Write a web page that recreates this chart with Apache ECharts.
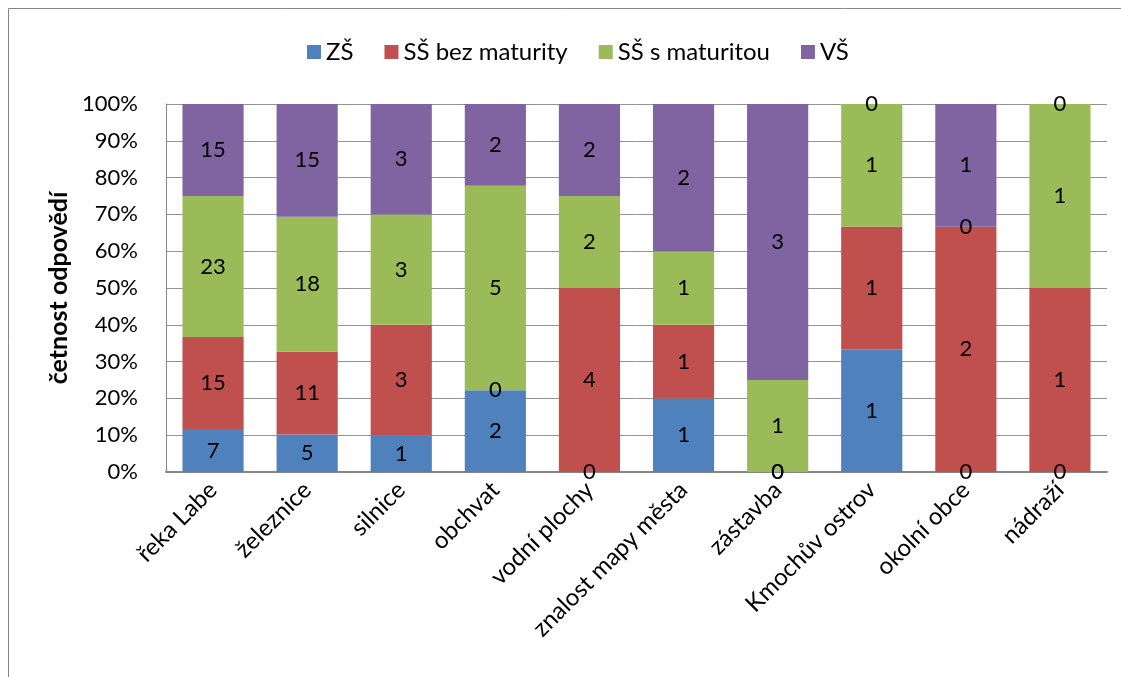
<!DOCTYPE html>
<html lang="cs">
  <head>
    <meta charset="utf-8" />
    <title>četnost odpovědí</title>
    <style>
      * {
        margin: 0;
        padding: 0;
      }
      #chart-container {
        position: relative;
        height: 677px;
        width: 1121px;
        overflow: hidden;
        background: #fff;
      }
    </style>
  </head>
  <body>
    <div id="chart-container"></div>
    <script src="https://fastly.jsdelivr.net/npm/echarts@6/dist/echarts.min.js"></script>
    <script>
      // counts
      const categories = [
        "řeka Labe",
        "železnice",
        "silnice",
        "obchvat",
        "vodní plochy",
        "znalost mapy města",
        "zástavba",
        "Kmochův ostrov",
        "okolní obce",
        "nádraží",
      ];
      const zs = [7, 5, 1, 2, 0, 1, 0, 1, 0, 0];
      const ssBez = [15, 11, 3, 0, 4, 1, 0, 1, 2, 1];
      const ssS = [23, 18, 3, 5, 2, 1, 1, 1, 0, 1];
      const vs = [15, 15, 3, 2, 2, 2, 3, 0, 1, 0];
      const yTicks = ["0%", "10%", "20%", "30%", "40%", "50%", "60%", "70%", "80%", "90%", "100%"];

      const totals = categories.map((_, i) => zs[i] + ssBez[i] + ssS[i] + vs[i]);
      const font = "Lato";

      function makeSeries(name, counts, color) {
        return {
          name: name,
          type: "bar",
          stack: "all",
          barCategoryGap: "35%",
          itemStyle: { color: color },
          label: {
            show: true,
            position: "inside",
            color: "#000",
            fontSize: 22,
            fontFamily: font,
            formatter: (p) => String(counts[p.dataIndex]),
          },
          data: counts.map((v, i) => (v / totals[i]) * 100),
        };
      }

      var dom = document.getElementById("chart-container");
      var myChart = echarts.init(dom, null, { renderer: "canvas" });

      var option = {
        animation: false,
        textStyle: { fontFamily: font },
        graphic: [
          {
            type: "rect",
            shape: { x: 8.5, y: 8.5, width: 1300, height: 900 },
            style: { fill: "none", stroke: "#868686", lineWidth: 1 },
          },
        ],
        legend: {
          top: 35,
          left: 302,
          itemWidth: 14,
          itemHeight: 14,
          itemGap: 31,
          icon: "rect",
          textStyle: { fontSize: 24, color: "#000", fontFamily: font },
          data: ["ZŠ", "SŠ bez maturity", "SŠ s maturitou", "VŠ"],
        },
        grid: {
          left: 166,
          right: 14,
          top: 104,
          bottom: 205,
          containLabel: false,
        },
        xAxis: {
          type: "category",
          data: categories,
          axisLine: { lineStyle: { color: "#868686", width: 2 } },
          axisTick: { show: false },
          axisLabel: {
            rotate: 45,
            interval: 0,
            color: "#000",
            fontSize: 24,
            fontFamily: font,
            margin: 14,
          },
        },
        yAxis: {
          type: "value",
          min: 0,
          max: 100,
          interval: 10,
          name: "četnost odpovědí",
          nameLocation: "middle",
          nameGap: 68,
          nameTextStyle: {
            fontSize: 25,
            fontWeight: "bold",
            color: "#000",
            fontFamily: font,
          },
          axisLine: { show: true, lineStyle: { color: "#868686" } },
          axisTick: { show: false },
          splitLine: { lineStyle: { color: "#939393" } },
          axisLabel: {
            color: "#000",
            fontSize: 22,
            fontFamily: font,
            margin: 28,
            formatter: (v) => yTicks[Math.round(v / 10)],
          },
        },
        series: [
          makeSeries("ZŠ", zs, "#4F81BD"),
          makeSeries("SŠ bez maturity", ssBez, "#C0504D"),
          makeSeries("SŠ s maturitou", ssS, "#9BBB59"),
          makeSeries("VŠ", vs, "#8064A2"),
        ],
      };

      myChart.setOption(option);
      window.addEventListener("resize", myChart.resize);
    </script>
  </body>
</html>
